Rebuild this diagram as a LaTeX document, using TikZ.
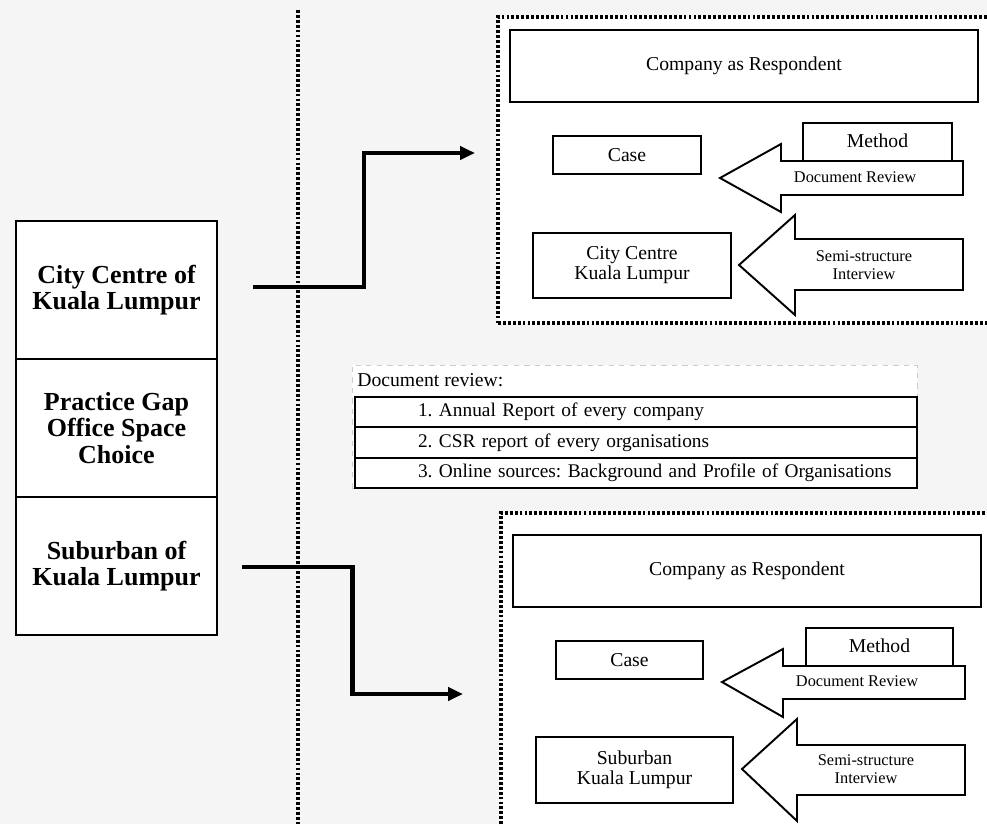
\documentclass[tikz,border=0pt]{standalone}
\usepackage{fontspec}
\setmainfont{Liberation Serif}
\usetikzlibrary{arrows.meta,calc}

\definecolor{paper}{RGB}{245,245,245}

\tikzset{
  cell/.style={draw, line width=0.6pt, fill=white, minimum width=4.02cm,
    minimum height=2.76cm, inner sep=0pt, align=center,
    font=\fontsize{14.8}{15.2}\selectfont\bfseries},
  frame/.style={draw, line width=1.9pt, dash pattern=on 1.6pt off 1.2pt,
    fill=white, inner sep=0pt},
  dotline/.style={line width=1.9pt, dash pattern=on 1.6pt off 1.2pt},
  bigbox/.style={draw, line width=1.5pt, fill=white, inner sep=0pt,
    minimum width=9.36cm, minimum height=1.44cm,
    font=\fontsize{11.2}{12}\selectfont},
  smallbox/.style={draw, line width=1.1pt, fill=white, inner sep=0pt,
    align=center, font=\fontsize{11.2}{11.4}\selectfont},
  fatarrow/.style={draw, line width=1.1pt, fill=white, line join=miter},
  arrowtext/.style={inner sep=0pt, align=center,
    font=\fontsize{9.3}{10.4}\selectfont},
  link/.style={line width=2.3pt, -{Triangle[length=8.5pt,width=7.4pt]}},
  row/.style={draw, line width=1.1pt, fill=white, minimum height=0.61cm,
    text width=11.24cm, inner xsep=0pt, inner ysep=0pt, align=left,
    font=\fontsize{11}{12}\selectfont},
}

\begin{document}
\frenchspacing
\begin{tikzpicture}[x=0.02cm, y=-0.02cm]
  % canvas
  \fill[paper] (0,0) rectangle (987,824);
  \useasboundingbox (0,0) rectangle (987,824);
  \clip (0,0) rectangle (987,824);

  \draw[dotline] (298,10) -- (298,824);

  % dotted frames
  \node[frame, minimum width=10.24cm, minimum height=6.12cm] (topframe) at (754,170) {};
  \node[frame, minimum width=10.18cm, minimum height=6.54cm] (botframe) at (755.5,676.5) {};

  % left column
  \node[cell] (city) at (116.5,290) {City Centre of\\Kuala Lumpur};
  \node[cell] (gap) at (116.5,428) {Practice Gap\\Office Space\\Choice};
  \node[cell] (suburb) at (116.5,566) {Suburban of\\Kuala Lumpur};
  \draw[line width=1.1pt] (city.north west) -- (suburb.south west);

  % connectors
  \coordinate (cityout) at (253,287);
  \coordinate (cityin) at (475,153);
  \draw[link] (cityout) -| ($(cityout)!.5!(cityin)$) |- (cityin);
  \coordinate (subout) at (242,567);
  \coordinate (subin) at (463,694);
  \draw[link] (subout) -| ($(subout)!.5!(subin)$) |- (subin);

  % document review list
  \node[draw=gray!40, dashed, line width=0.4pt, fill=white, inner sep=0pt,
    minimum width=11.3cm, minimum height=2.46cm] (docbox) at (634.5,426.5) {};
  \node[anchor=west, inner sep=0pt, font=\fontsize{11.2}{12}\selectfont]
    (dochead) at (357,380) {Document review:};
  \node[row] (item1) at (636,412) {\hspace*{1.26cm}1. Annual Report of every company};
  \node[row] (item2) at (636,442.5) {\hspace*{1.26cm}2. CSR report of every organisations};
  \node[row] (item3) at (636,473) {\hspace*{1.26cm}3. Online sources: Background and Profile of Organisations};

  % upper case block
  \node[bigbox] (resp1) at (744,66) {Company as Respondent};
  \node[smallbox, minimum width=2.96cm, minimum height=0.76cm] (case1) at (627,155) {Case};
  \node[smallbox, minimum width=2.98cm, minimum height=0.76cm] (method1) at (877.5,142) {\raisebox{2pt}{Method}};
  \draw[fatarrow] (720,178) -- (781,144) -- (781,161) -- (963,161) -- (963,195)
    -- (781,195) -- (781,212) -- cycle;
  \node[arrowtext] (review1) at (855,177) {Document Review};
  \node[smallbox, minimum width=3.96cm, minimum height=1.3cm] (place1) at (632,265.5) {City Centre\\Kuala Lumpur};
  \draw[fatarrow] (739,265) -- (795,215) -- (795,239) -- (963,239) -- (963,290)
    -- (795,290) -- (795,315) -- cycle;
  \node[arrowtext] (semi1) at (864,265) {Semi-structure\\Interview};

  % lower case block
  \node[bigbox] (resp2) at (747,571) {Company as Respondent};
  \node[smallbox, minimum width=2.94cm, minimum height=0.76cm] (case2) at (629.5,660) {Case};
  \node[smallbox, minimum width=2.94cm, minimum height=0.76cm] (method2) at (879.5,647) {\raisebox{2pt}{Method}};
  \draw[fatarrow] (722,682) -- (783,649) -- (783,666) -- (965,666) -- (965,699)
    -- (783,699) -- (783,717) -- cycle;
  \node[arrowtext] (review2) at (857,681) {Document Review};
  \node[smallbox, minimum width=3.94cm, minimum height=1.32cm] (place2) at (634.5,770) {Suburban\\Kuala Lumpur};
  \draw[fatarrow] (742,769) -- (797,719) -- (797,745) -- (965,745) -- (965,795)
    -- (797,795) -- (797,821) -- cycle;
  \node[arrowtext] (semi2) at (866,769) {Semi-structure\\Interview};
\end{tikzpicture}
\end{document}
